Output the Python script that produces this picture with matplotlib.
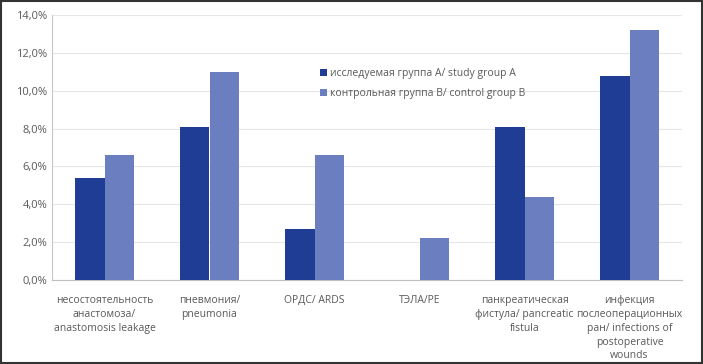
import matplotlib
matplotlib.use("Agg")
import matplotlib.pyplot as plt
import numpy as np
from matplotlib.ticker import FuncFormatter

categories = [
    "несостоятельность\nанастомоза/\nanastomosis leakage",
    "пневмония/\npneumonia",
    "ОРДС/ ARDS",
    "ТЭЛА/PE",
    "панкреатическая\nфистула/ pancreatic\nfistula",
    "инфекция\nпослеоперационных\nран/ infections of\npostoperative\nwounds",
]
group_a = [5.4, 8.1, 2.7, 0.0, 8.1, 10.8]
group_b = [6.6, 11.0, 6.6, 2.2, 4.4, 13.2]
label_a = "исследуемая группа А/ study group A"
label_b = "контрольная группа В/ control group B"

plt.rcParams['font.family'] = ['Open Sans', 'DejaVu Sans']

fig = plt.figure(figsize=(7.03, 3.64), dpi=100)
ax = fig.add_axes([52/703, 1 - 280/364, 630/703, 265/364])

x = np.arange(len(categories))
w = 0.285
ax.bar(x - w/2, group_a, w, color="#1f3d94", label=label_a, zorder=3, linewidth=0)
ax.bar(x + w/2, group_b, w, color="#6b7fc0", label=label_b, zorder=3, linewidth=0)

ax.set_xlim(-0.5, len(categories) - 0.5)
ax.set_ylim(0, 14)
ax.set_yticks(np.arange(0, 14.1, 2))
ax.yaxis.set_major_formatter(FuncFormatter(lambda v, p: f"{v:.1f}%".replace(".", ",")))
ax.grid(axis="y", color="#e6e6e6", linewidth=0.8, zorder=0)
for s in ["top", "right"]:
    ax.spines[s].set_visible(False)
ax.spines["left"].set_color("#c8c8c8")
ax.spines["bottom"].set_color("#bfbfbf")
ax.tick_params(axis="y", length=0, colors="#595959", labelsize=8)
ax.tick_params(axis="x", length=0, colors="#595959", labelsize=7.5, pad=11)
ax.set_xticks(x)
ax.set_xticklabels(categories, fontsize=7.5, color="#595959", linespacing=1.35, va="top")

ax.legend(loc="upper left", bbox_to_anchor=(0.41, 0.835), frameon=False,
          fontsize=7.5, labelcolor="#595959", handlelength=0.7, handleheight=0.7,
          handletextpad=0.3, labelspacing=0.9)

border = plt.Rectangle((0.002, 0.003), 0.996, 0.994, transform=fig.transFigure,
                       fill=False, edgecolor="#333333", linewidth=1.5)
fig.patches.append(border)

fig.savefig("out.png", dpi=100)
